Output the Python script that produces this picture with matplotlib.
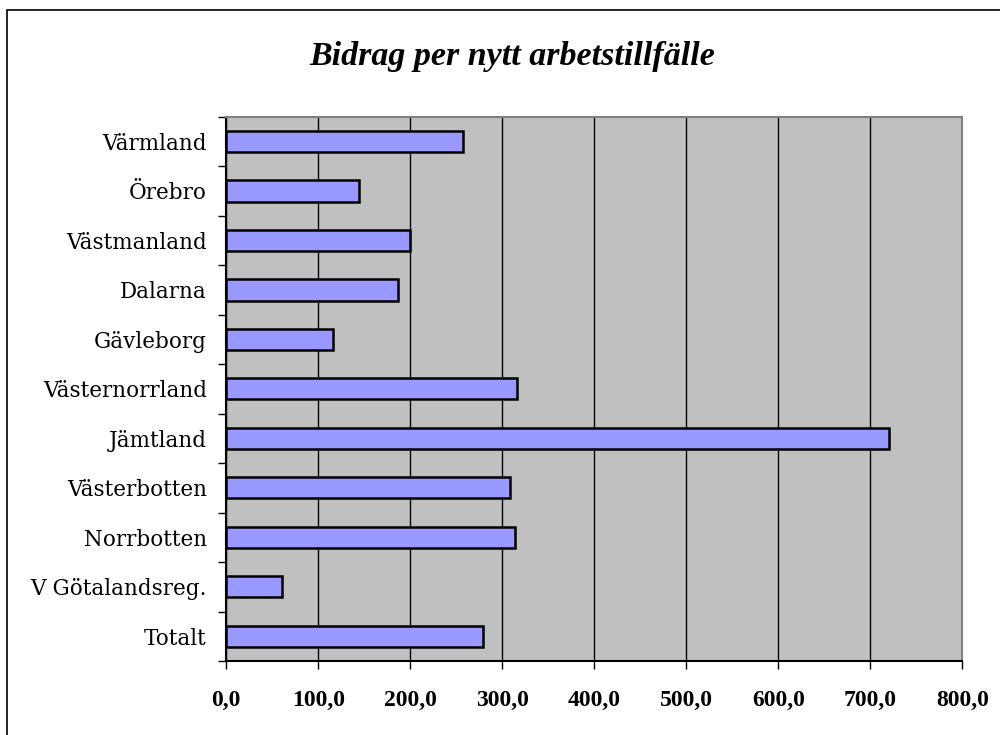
import matplotlib.pyplot as plt
from matplotlib.patches import Rectangle
from matplotlib.ticker import FixedLocator, FuncFormatter

# data
kategorier = ['Värmland', 'Örebro', 'Västmanland', 'Dalarna', 'Gävleborg',
              'Västernorrland', 'Jämtland', 'Västerbotten', 'Norrbotten',
              'V Götalandsreg.', 'Totalt']
bidrag = [257, 144, 200, 187, 116, 316, 720, 308, 314, 61, 279]
x_ticks = [0, 100, 200, 300, 400, 500, 600, 700, 800]

fig = plt.figure(figsize=(10, 7.35), dpi=100)
ax = fig.add_axes([0.2263, 0.1007, 0.7362, 0.7405])
ax.set_facecolor('#C0C0C0')

n = len(kategorier)
pos = list(range(n - 1, -1, -1))
ax.barh(pos, bidrag, height=0.43, color='#9999FF', edgecolor='black',
        linewidth=1.8, zorder=3)

ax.set_xlim(0, 800)
ax.set_ylim(-0.5, n - 0.5)
ax.set_xticks(x_ticks)
ax.xaxis.set_major_formatter(FuncFormatter(lambda v, p: f'{v:.1f}'.replace('.', ',')))
for lab in ax.get_xticklabels():
    lab.set_fontfamily('Liberation Serif')
    lab.set_fontweight('bold')
    lab.set_fontsize(17)
ax.tick_params(axis='x', direction='out', length=5.8, width=1, color='black', pad=15)
ax.grid(axis='x', color='black', linewidth=1, zorder=1)

ax.set_yticks(pos)
ax.set_yticklabels(kategorier, fontfamily='DejaVu Serif', fontsize=15.5)
ax.tick_params(axis='y', which='major', length=0, pad=14)
ax.yaxis.set_minor_locator(FixedLocator([i - 0.5 for i in range(n + 1)]))
ax.tick_params(axis='y', which='minor', direction='out', length=5.8, width=1, color='black')

ax.spines['left'].set_color('black')
ax.spines['bottom'].set_color('black')
ax.spines['top'].set_color('#808080')
ax.spines['right'].set_color('#808080')
for s in ax.spines.values():
    s.set_linewidth(1.5)
    s.set_zorder(4)

fig.text(0.512, 1 - 56 / 735, 'Bidrag per nytt arbetstillfälle', ha='center', va='center',
         fontfamily='Liberation Serif', fontweight='bold', fontstyle='italic', fontsize=24.5)

# outer chart border
fig.patches.append(Rectangle((7 / 1000, -0.1), 1.2, 1 - 10 / 735 + 0.1, transform=fig.transFigure,
                             fill=False, edgecolor='black', linewidth=1.2))

fig.savefig('out.png', dpi=100)
